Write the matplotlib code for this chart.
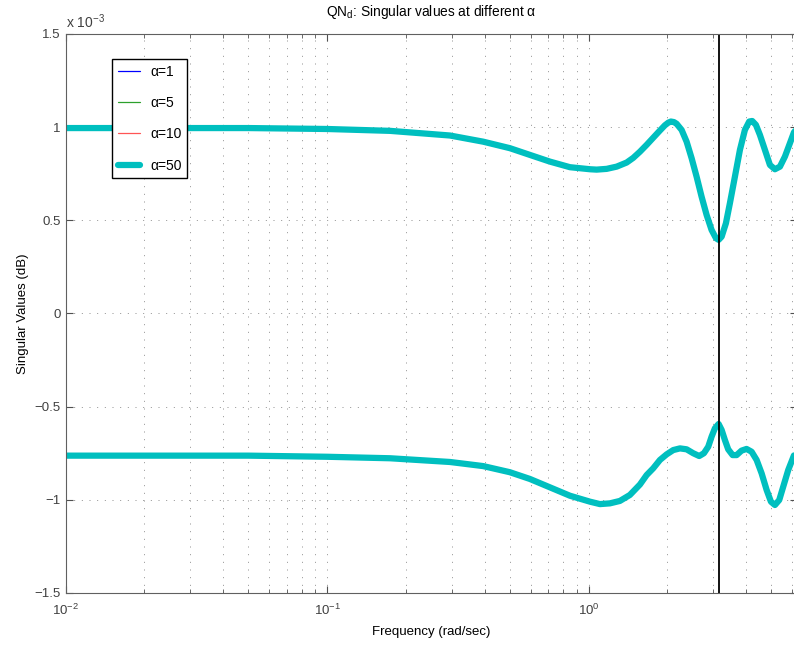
import numpy as np
import matplotlib
matplotlib.use("Agg")
import matplotlib.pyplot as plt
from matplotlib.ticker import LogLocator, NullFormatter

# singular value curves (x 1e-3), read at these frequencies (rad/sec)
freq_upper = [0.01, 0.02, 0.05, 0.1, 0.174, 0.295, 0.395, 0.5, 0.596, 0.711, 0.848,
              1.012, 1.073, 1.172, 1.28, 1.398, 1.481, 1.571, 1.667, 1.766, 1.874, 1.958,
              2.017, 2.064, 2.12, 2.17, 2.268, 2.37, 2.477, 2.588, 2.704, 2.826, 2.953,
              3.068, 3.1416, 3.226, 3.35, 3.47, 3.626, 3.79, 3.96, 4.113, 4.223, 4.363,
              4.52, 4.723, 4.936, 5.158, 5.391, 5.633, 5.887, 6.098, 6.2832]
sv_upper = [0.995, 0.995, 0.995, 0.990, 0.980, 0.955, 0.922, 0.887, 0.851, 0.815, 0.785,
            0.774, 0.772, 0.776, 0.788, 0.810, 0.835, 0.868, 0.905, 0.943, 0.982, 1.010,
            1.024, 1.030, 1.027, 1.018, 0.985, 0.922, 0.833, 0.734, 0.627, 0.529, 0.448,
            0.404, 0.395, 0.412, 0.484, 0.592, 0.734, 0.878, 0.985, 1.030, 1.033, 1.012,
            0.958, 0.878, 0.797, 0.774, 0.788, 0.842, 0.914, 0.972, 0.995]

freq_lower = [0.01, 0.02, 0.05, 0.1, 0.174, 0.295, 0.395, 0.5, 0.596, 0.711, 0.848,
              1.012, 1.105, 1.206, 1.317, 1.438, 1.571, 1.667, 1.766, 1.874, 1.988, 2.107,
              2.235, 2.37, 2.512, 2.648, 2.76, 2.867, 2.953, 3.041, 3.1416, 3.226, 3.32,
              3.418, 3.553, 3.681, 3.845, 4.018, 4.201, 4.39, 4.588, 4.794, 4.98, 5.158,
              5.358, 5.548, 5.799, 6.098, 6.2832]
sv_lower = [-0.763, -0.763, -0.763, -0.769, -0.777, -0.797, -0.819, -0.852, -0.888,
            -0.933, -0.978, -1.010, -1.023, -1.019, -1.006, -0.974, -0.918, -0.867,
            -0.831, -0.786, -0.756, -0.733, -0.724, -0.729, -0.750, -0.765, -0.750,
            -0.715, -0.661, -0.616, -0.593, -0.625, -0.679, -0.729, -0.760, -0.760,
            -0.736, -0.727, -0.742, -0.786, -0.858, -0.947, -1.010, -1.028, -1.001,
            -0.930, -0.840, -0.762, -0.763]

alphas = [1, 5, 10, 50]
colors = ["#0000ff", "#2ca02c", "#ff5555", "#00bfbf"]
widths = [0.9, 0.9, 0.9, 4.5]
w_mark = np.pi

plt.rcParams["font.family"] = ["Liberation Sans", "DejaVu Sans"]
plt.rcParams["font.size"] = 9

fig = plt.figure(figsize=(7.94, 6.48), dpi=100)
ax = fig.add_axes([0.0827, 0.0849, 0.9215, 0.8627])

for a, c, lw in zip(alphas, colors, widths):
    ax.plot(freq_upper, np.array(sv_upper) * 1e-3, color=c, lw=lw, label="\u03b1=%d" % a,
            solid_capstyle="round", solid_joinstyle="round")
    ax.plot(freq_lower, np.array(sv_lower) * 1e-3, color=c, lw=lw,
            solid_capstyle="round", solid_joinstyle="round")

ax.axvline(w_mark, color="black", lw=1.3)

ax.set_xscale("log")
ax.set_xlim(0.01, 2 * np.pi)
ax.set_ylim(-1.5e-3, 1.5e-3)

yt = [-1.5, -1, -0.5, 0, 0.5, 1, 1.5]
ax.set_yticks([v * 1e-3 for v in yt])
ax.set_yticklabels(["\u22121.5", "\u22121", "\u22120.5", "0", "0.5", "1", "1.5"])
ax.set_xticks([0.01, 0.1, 1])
ax.set_xticklabels([r"$\mathregular{10^{-2}}$", r"$\mathregular{10^{-1}}$",
                    r"$\mathregular{10^{0}}$"])
ax.xaxis.set_minor_locator(LogLocator(base=10, subs=np.arange(2, 10)))
ax.xaxis.set_minor_formatter(NullFormatter())

dots = (0, (1.2, 8))
ax.grid(True, which="both", axis="x", color="#808080", lw=0.6, linestyle=dots)
ax.grid(True, which="major", axis="y", color="#808080", lw=0.6, linestyle=dots)

ax.tick_params(which="both", direction="in", top=True, right=True, colors="#505050",
               labelcolor="#404040", labelsize=9.5)
ax.tick_params(axis="x", which="major", pad=7)
ax.tick_params(which="major", length=5)
ax.tick_params(which="minor", length=3)
for s in ax.spines.values():
    s.set_color("#606060")

ax.text(0.0, 1.006, r"x 10$^{\mathregular{-3}}$", transform=ax.transAxes,
        color="#404040", ha="left", va="bottom", fontsize=10)

ax.set_xlabel("Frequency (rad/sec)", fontsize=9.5, labelpad=6)
ax.set_ylabel("Singular Values (dB)", fontsize=9.5)
ax.set_title("QN$_\\mathregular{d}$: Singular values at different \u03b1", pad=13,
             fontsize=9.9)

leg = ax.legend(loc="upper left", bbox_to_anchor=(112 / 794, 1 - 59 / 648),
                bbox_transform=fig.transFigure, borderaxespad=0, fancybox=False,
                edgecolor="black", framealpha=1, labelspacing=1.25, handlelength=1.6,
                handletextpad=0.75, borderpad=0.4, fontsize=10)
leg.get_frame().set_linewidth(1.0)

fig.savefig("out.png", dpi=100)
